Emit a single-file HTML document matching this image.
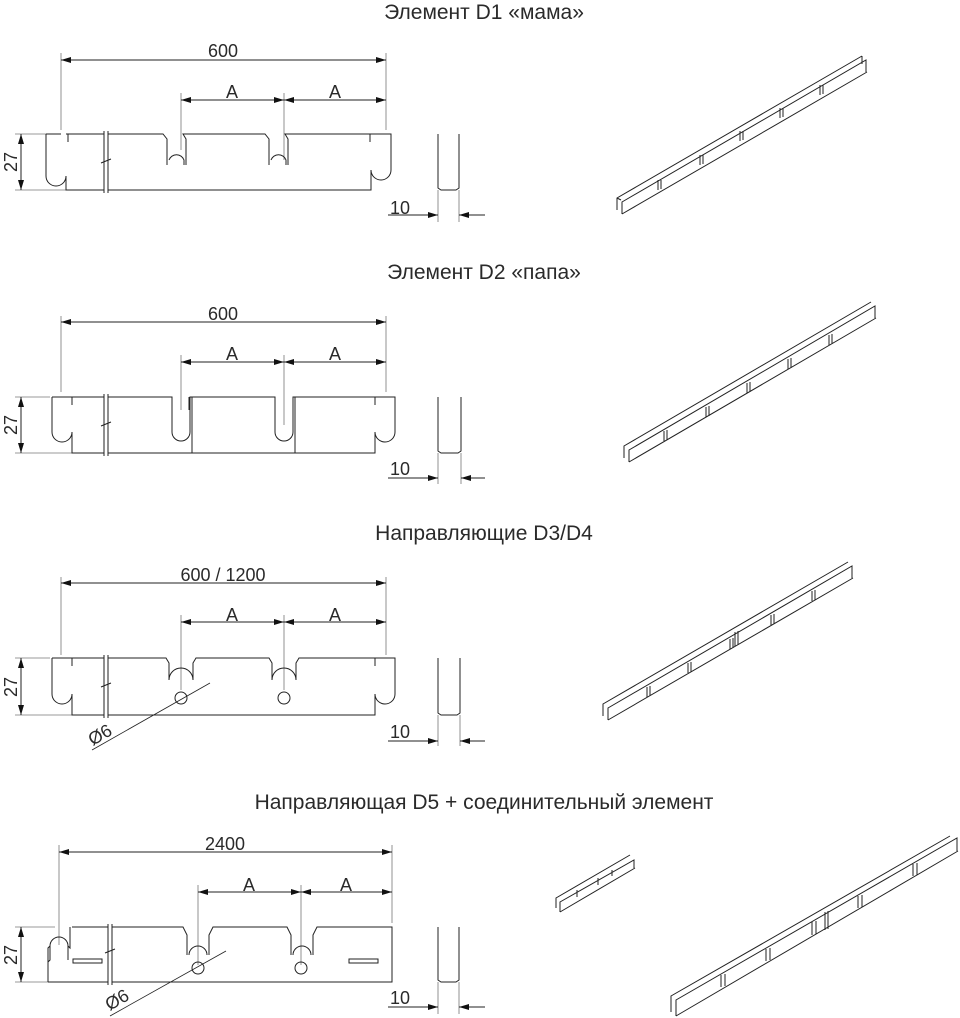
<!DOCTYPE html>
<html><head><meta charset="utf-8"><style>
html,body{margin:0;padding:0;background:#fff}
svg{display:block}
text{font-family:"Liberation Sans",sans-serif;fill:#2a2a2a}
</style></head><body>
<svg width="960" height="1018" viewBox="0 0 960 1018" xmlns="http://www.w3.org/2000/svg">
<defs>
<marker id="ar" viewBox="0 0 10 6" refX="10" refY="3" markerWidth="10" markerHeight="6" orient="auto-start-reverse" markerUnits="userSpaceOnUse"><path d="M0,0 L10,3 L0,6z" fill="#111"/></marker>
</defs>
<g font-size="21" text-anchor="middle">
<text x="484" y="19">Элемент D1 «мама»</text>
<text x="484" y="279">Элемент D2  «папа»</text>
<text x="484" y="540">Направляющие D3/D4</text>
<text x="484" y="809">Направляющая D5 + соединительный элемент</text>
</g>
<g fill="none" stroke="#222" stroke-width="1">
<!-- ===== D1 ===== -->
<g stroke="#777" stroke-width="0.8">
<line x1="61" y1="53" x2="61" y2="130"/><line x1="386" y1="53" x2="386" y2="130"/>
<line x1="181" y1="93" x2="181" y2="150"/><line x1="284" y1="93" x2="284" y2="160"/>
<line x1="15" y1="134" x2="50" y2="134"/><line x1="15" y1="190" x2="66" y2="190"/>
<line x1="438" y1="190" x2="438" y2="222"/><line x1="459" y1="190" x2="459" y2="222"/>
</g>
<line x1="61" y1="60" x2="386" y2="60" marker-start="url(#ar)" marker-end="url(#ar)"/>
<line x1="181" y1="100" x2="284" y2="100" marker-start="url(#ar)" marker-end="url(#ar)"/>
<line x1="284" y1="100" x2="386" y2="100" marker-start="url(#ar)" marker-end="url(#ar)"/>
<line x1="21" y1="134" x2="21" y2="190" marker-start="url(#ar)" marker-end="url(#ar)"/>
<line x1="388" y1="215" x2="438" y2="215" marker-end="url(#ar)"/>
<line x1="485" y1="215" x2="459" y2="215" marker-end="url(#ar)"/>
<path d="M46,134 L61,134 M46,134 L46,140 M46,140 L46,176 A10,10 0 0 0 66,176 L66,190 L104,190 M66,134 L104,134 M68,134 L68,142 M108,134 L163,134 L167,139 L167,165 M169,160 A8,8 0 0 1 184,160 L184,165 M186,165 L186,139 L183,134 L265,134 L269,139 L269,165 M271,160 A8,8 0 0 1 286,160 L286,165 M288,165 L288,139 L285,134 L391,134 L391,170 A10,10 0 0 1 371,170 L371,190 L108,190 M370,134 L370,142"/>
<path d="M104,131 L104,193 M108,131 L108,193 M101,163 L111,159" />
<path d="M438,134 L438,188 L441,190 L456,190 L459,188 L459,134"/>
<!-- ===== D2 ===== -->
<g stroke="#777" stroke-width="0.8">
<line x1="61" y1="316" x2="61" y2="392"/><line x1="386" y1="316" x2="386" y2="392"/>
<line x1="181" y1="355" x2="181" y2="410"/><line x1="284" y1="355" x2="284" y2="425"/>
<line x1="15" y1="397" x2="50" y2="397"/><line x1="15" y1="453" x2="72" y2="453"/>
<line x1="438" y1="453" x2="438" y2="484"/><line x1="461" y1="453" x2="461" y2="484"/>
</g>
<line x1="61" y1="322" x2="386" y2="322" marker-start="url(#ar)" marker-end="url(#ar)"/>
<line x1="181" y1="362" x2="284" y2="362" marker-start="url(#ar)" marker-end="url(#ar)"/>
<line x1="284" y1="362" x2="386" y2="362" marker-start="url(#ar)" marker-end="url(#ar)"/>
<line x1="21" y1="397" x2="21" y2="453" marker-start="url(#ar)" marker-end="url(#ar)"/>
<line x1="388" y1="478" x2="438" y2="478" marker-end="url(#ar)"/>
<line x1="485" y1="478" x2="461" y2="478" marker-end="url(#ar)"/>
<path d="M52,397 L104,397 M52,397 L52,432 A10,10 0 0 0 72,432 L72,453 L104,453 M72,397 L72,405 M108,397 L172,397 L172,432 A9,9 0 0 0 190,432 L190,397 L192,397 L192,453 L108,453 M190,397 L275,397 L275,432 A9,9 0 0 0 293,432 L293,397 L295,397 L295,453 L192,453 M295,397 L395,397 L395,432 A10,10 0 0 1 375,432 L375,453 L295,453 M375,397 L375,405 M172,397 L172,410 M189,397 L189,410"/>
<path d="M104,394 L104,456 M108,394 L108,456 M101,426 L111,422"/>
<path d="M438,397 L438,451 L441,453 L458,453 L461,451 L461,397"/>
<!-- ===== D3 ===== -->
<g stroke="#777" stroke-width="0.8">
<line x1="61" y1="577" x2="61" y2="655"/><line x1="386" y1="577" x2="386" y2="655"/>
<line x1="181" y1="615" x2="181" y2="690"/><line x1="284" y1="615" x2="284" y2="690"/>
<line x1="15" y1="658" x2="50" y2="658"/><line x1="15" y1="715" x2="72" y2="715"/>
<line x1="438" y1="715" x2="438" y2="746"/><line x1="460" y1="715" x2="460" y2="746"/>
</g>
<line x1="61" y1="583" x2="386" y2="583" marker-start="url(#ar)" marker-end="url(#ar)"/>
<line x1="181" y1="622" x2="284" y2="622" marker-start="url(#ar)" marker-end="url(#ar)"/>
<line x1="284" y1="622" x2="386" y2="622" marker-start="url(#ar)" marker-end="url(#ar)"/>
<line x1="21" y1="658" x2="21" y2="715" marker-start="url(#ar)" marker-end="url(#ar)"/>
<line x1="388" y1="741" x2="438" y2="741" marker-end="url(#ar)"/>
<line x1="485" y1="741" x2="460" y2="741" marker-end="url(#ar)"/>
<path d="M52,658 L104,658 M52,658 L52,694 A10,10 0 0 0 72,694 L72,715 L104,715 M72,658 L72,666 M108,658 L166,658 L169,663 L169,680 A12,12 0 0 1 193,680 L193,663 L196,658 L269,658 L272,663 L272,680 A12,12 0 0 1 296,680 L296,663 L299,658 L395,658 L395,694 A10,10 0 0 1 375,694 L375,715 L108,715 M375,658 L375,666"/>
<path d="M104,655 L104,718 M108,655 L108,718 M101,687 L111,683"/>
<circle cx="181" cy="698" r="6"/><circle cx="284" cy="698" r="6"/>
<line x1="92" y1="750" x2="210" y2="683" stroke-width="0.8"/>
<path d="M438,658 L438,713 L441,715 L457,715 L460,713 L460,658"/>
<!-- ===== D5 ===== -->
<g stroke="#777" stroke-width="0.8">
<line x1="59" y1="845" x2="59" y2="945"/><line x1="392" y1="845" x2="392" y2="923"/>
<line x1="198" y1="885" x2="198" y2="965"/><line x1="301" y1="885" x2="301" y2="965"/>
<line x1="15" y1="927" x2="55" y2="927"/><line x1="15" y1="982" x2="48" y2="982"/>
<line x1="438" y1="982" x2="438" y2="1014"/><line x1="459" y1="982" x2="459" y2="1014"/>
</g>
<line x1="59" y1="852" x2="392" y2="852" marker-start="url(#ar)" marker-end="url(#ar)"/>
<line x1="198" y1="892" x2="301" y2="892" marker-start="url(#ar)" marker-end="url(#ar)"/>
<line x1="301" y1="892" x2="392" y2="892" marker-start="url(#ar)" marker-end="url(#ar)"/>
<line x1="21" y1="927" x2="21" y2="982" marker-start="url(#ar)" marker-end="url(#ar)"/>
<line x1="388" y1="1007" x2="438" y2="1007" marker-end="url(#ar)"/>
<line x1="485" y1="1007" x2="459" y2="1007" marker-end="url(#ar)"/>
<path d="M48,982 L48,948 L50,946 L50,946 A9,9 0 0 1 68,946 L70,948 L70,927 M50,946 L50,960 L48,962 M68,946 L68,960 M72,927 L108,927 M48,982 L108,982 M112,927 L183,927 L187,935 L187,955 M189,955 A9,9 0 0 1 207,955 M209,955 L209,935 L213,927 L287,927 L291,935 L291,955 M293,955 A9,9 0 0 1 311,955 M313,955 L313,935 L317,927 L392,927 L392,982 L112,982"/>
<path d="M108,924 L108,985 M112,924 L112,985 M105,953 L115,949"/>
<rect x="73" y="959" width="29" height="4"/><rect x="349" y="959" width="29" height="4"/>
<circle cx="198" cy="968" r="6"/><circle cx="301" cy="968" r="6"/>
<line x1="110" y1="1016" x2="226" y2="951" stroke-width="0.8"/>
<path d="M438,927 L438,980 L441,982 L456,982 L459,980 L459,927"/>
</g>
<!-- dimension texts -->
<g font-size="18" text-anchor="middle">
<text x="223" y="57">600</text>
<text x="232" y="98">A</text><text x="335" y="98">A</text>
<text x="400" y="214">10</text>
<text x="223" y="320">600</text>
<text x="232" y="360">A</text><text x="335" y="360">A</text>
<text x="400" y="475">10</text>
<text x="223" y="581">600 / 1200</text>
<text x="232" y="621">A</text><text x="335" y="621">A</text>
<text x="400" y="738">10</text>
<text x="225" y="850">2400</text>
<text x="249" y="891">A</text><text x="346" y="891">A</text>
<text x="400" y="1004">10</text>
<text transform="translate(17,162) rotate(-90)">27</text>
<text transform="translate(17,425) rotate(-90)">27</text>
<text transform="translate(17,687) rotate(-90)">27</text>
<text transform="translate(17,955) rotate(-90)">27</text>
<text transform="translate(103,740) rotate(-30)">Ø6</text>
<text transform="translate(120,1005) rotate(-30)">Ø6</text>
</g>
<!-- isometric rails -->
<g fill="none" stroke="#222" stroke-width="1">
<path d="M622,214 L867,72 M617,210 L617,198 L862,56 M622,214 L622,202 L866,60 L866,72 M617,198 L621,200 M862,56 L862,64"/>
<path d="M658,190 L658,180 M661,189 L661,180 M700,165 L700,155 M703,164 L703,155 M740,141 L740,131 M743,140 L743,131 M780,118 L780,108 M783,117 L783,108 M820,95 L820,85 M823,94 L823,85"/>
<path d="M629,462 L876,318 M624,458 L624,446 L871,302 M629,462 L629,450 L875,306 L875,318"/>
<path d="M664,441 L664,431 M667,440 L667,430 M706,417 L706,407 M709,416 L709,406 M747,393 L747,383 M750,392 L750,382 M788,369 L788,359 M791,368 L791,358 M829,345 L829,335 M832,344 L832,334"/>
<path d="M608,720 L853,578 M603,716 L603,704 L848,562 M608,720 L608,708 L852,566 L852,578"/>
<path d="M647,697 L647,687 M650,696 L650,686 M688,673 L688,663 M691,672 L691,662 M730,649 L730,639 M733,648 L733,638 M735,646 L735,632 M738,645 L738,631 M771,625 L771,615 M774,624 L774,614 M812,601 L812,591 M815,600 L815,590"/>
<path d="M676,1016 L958,851 M671,1012 L671,996 L950,836 M676,1016 L676,1000 L957,838 L957,851"/>
<path d="M721,987 L721,975 M725,986 L725,974 M766,961 L766,949 M770,960 L770,948 M812,935 L812,922 M816,934 L816,921 M825,930 L825,912 M828,929 L828,911 M858,908 L858,896 M862,907 L862,895 M913,876 L913,864 M917,875 L917,863"/>
<path d="M560,912 L635,868 M556,908 L556,898 L630,855 M560,912 L560,902 L634,860 L634,868 M577,897 L577,890 M598,885 L598,878 M612,876 L612,870"/>
</g>
</svg>
</body></html>
